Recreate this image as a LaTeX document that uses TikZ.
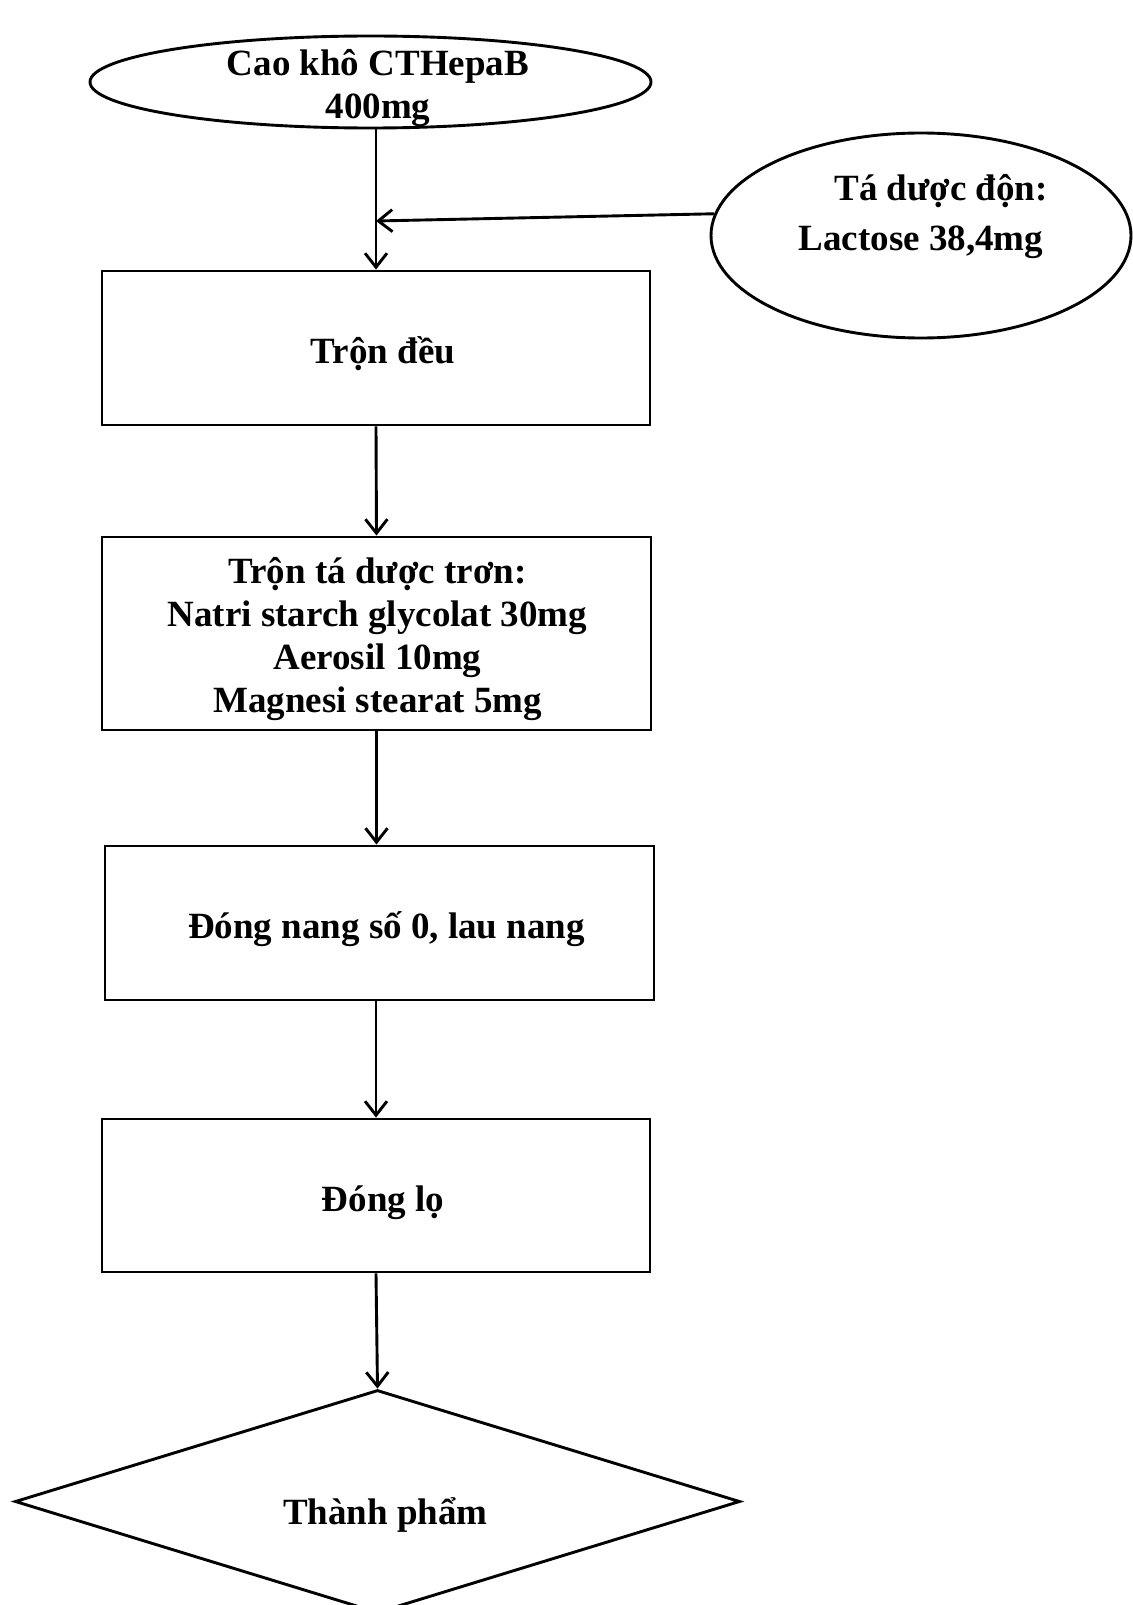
\documentclass[tikz,border=0pt]{standalone}
\usepackage{fontspec}
\setmainfont{Liberation Serif}
\usetikzlibrary{arrows.meta}
\usetikzlibrary{shapes.geometric}

\begin{document}
\begin{tikzpicture}[x=0.5pt, y=-0.5pt, line width=1.45pt,
	font=\bfseries\fontsize{18.5}{21.5}\selectfont]
	\useasboundingbox (0,0) rectangle (1132,1605);
	\begin{scope}[every node/.style={draw, inner sep=0pt}]
		\node[ellipse, minimum width=280.5pt, minimum height=46pt] (cao) at (370.5,82) {};
		\node[ellipse, minimum width=210pt, minimum height=102.5pt] (lactose) at (921,235.5) {};
		\node[rectangle, minimum width=274pt, minimum height=77pt] (tron1) at (376,348) {};
		\node[rectangle, minimum width=274.5pt, minimum height=96.5pt] (tron2) at (376.5,633.5) {};
		\node[rectangle, minimum width=274.5pt, minimum height=77pt] (dong) at (379.5,923) {};
		\node[rectangle, minimum width=274pt, minimum height=76.5pt] (lo) at (376,1195.5) {};
		\node[diamond, minimum width=362.5pt, minimum height=111.5pt] (tp) at (377.5,1501.5) {};
	\end{scope}

	\begin{scope}[every node/.style={inner sep=0pt, align=center}]
		\node (caotext) at (378,88) {Cao khô CTHepaB\\400mg};
		\node (lactosetext) at (931,217) {\hspace*{10pt}Tá dược độn:\\[3.5pt]Lactose 38,4mg\hspace*{10pt}};
		\node (tron1text) at ([shift={(7,6)}]tron1.center) {Trộn đều};
		\node (tron2text) at ([shift={(1,6)}]tron2.center) {Trộn tá dược trơn:\\Natri starch glycolat 30mg\\Aerosil 10mg\\Magnesi stearat 5mg};
		\node (dongtext) at ([shift={(7,6)}]dong.center) {Đóng nang số 0, lau nang};
		\node (lotext) at ([shift={(7,7)}]lo.center) {Đóng lọ};
		\node (tptext) at ([shift={(8,13)}]tp.center) {Thành phẩm};
	\end{scope}
	\coordinate (join) at (376,221);

	\begin{scope}[>={Straight Barb[length=7pt, width=11pt]},
	              every edge/.style={draw=black, ->}]
		\path (tron1.north |- cao.south) edge (tron1.north);
		\path (lactose.174) edge (join);
		\path (tron1.south) edge (tron2.north);
		\path (tron2.south) edge (tron2.south |- dong.north);
		\path (lo.north |- dong.south) edge (lo.north);
		\path (lo.south) edge (tp.north);
	\end{scope}
\end{tikzpicture}
\end{document}
